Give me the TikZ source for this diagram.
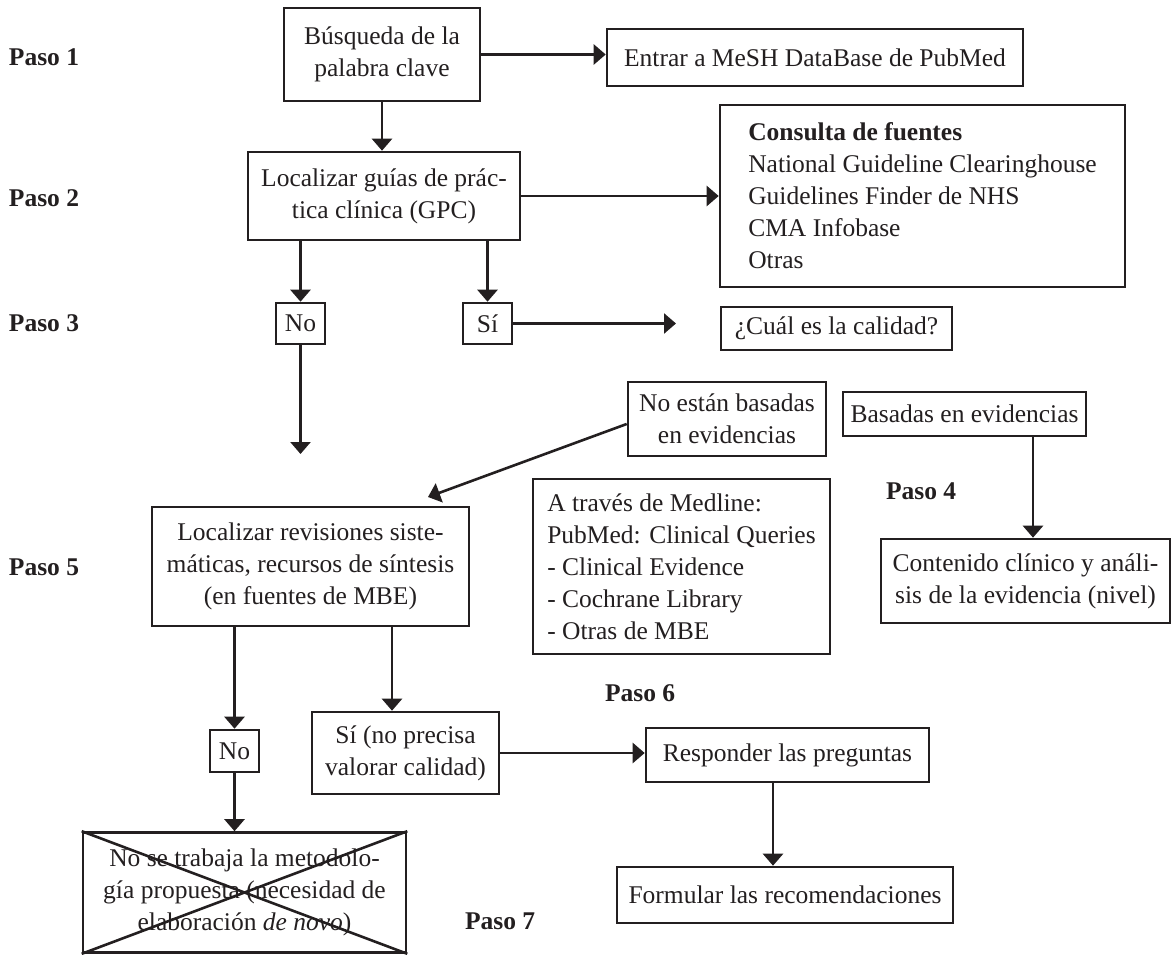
\documentclass[tikz,border=0pt]{standalone}
\usepackage{fontspec}
\setmainfont{Liberation Serif}
\usetikzlibrary{arrows.meta}
\definecolor{ink}{RGB}{35,31,32}
\begin{document}
\begin{tikzpicture}[x=1pt,y=-1pt,
  every node/.style={inner sep=0pt, outer sep=1.3pt, text=ink,
    font=\fontsize{25.5}{32}\selectfont},
  box/.style={draw=ink, line width=2.6pt, align=center},
  lbox/.style={draw=ink, line width=2.6pt, align=left},
  paso/.style={anchor=west, outer sep=0pt, font=\fontsize{25.5}{32}\selectfont\bfseries},
  conn/.style={draw=ink, line width=2.6pt, -{Triangle[width=20pt,length=12pt]}},
  strike/.style={draw=ink, line width=2.6pt}
]
\useasboundingbox (0,0) rectangle (1172,955);

% step labels
\node[paso] (p1) at (9,57)  {Paso 1};
\node[paso] (p2) at (9,198) {Paso 2};
\node[paso] (p3) at (9,323) {Paso 3};
\node[paso] (p4) at (886,491) {Paso 4};
\node[paso] (p5) at (9,567) {Paso 5};
\node[paso] (p6) at (605,693) {Paso 6};
\node[paso] (p7) at (465,921) {Paso 7};

% boxes
\node[box, minimum width=196pt, minimum height=93pt] (busq) at (382,54.5)
  {Búsqueda de la\\palabra clave};
\node[box, minimum width=416pt, minimum height=57pt] (mesh) at (815,57.5)
  {Entrar a MeSH DataBase de PubMed};
\node[box, minimum width=272pt, minimum height=88pt] (gpc) at (384,196)
  {Localizar guías de prác-\\tica clínica (GPC)};
\node[lbox, minimum width=405pt, minimum height=182pt] (fuentes) at (922.5,196)
  {\textbf{Consulta de fuentes}\\National Guideline Clearinghouse\\Guidelines Finder de NHS\\CMA Infobase\\Otras};
\node[box, minimum width=49pt, minimum height=41pt] (no1) at (300.5,323.5) {No};
\node[box, minimum width=49pt, minimum height=41pt] (si1) at (487.5,323.5) {Sí};
\node[box, minimum width=231pt, minimum height=43pt] (calidad) at (836.5,328.5)
  {¿Cuál es la calidad?};
\node[box, minimum width=198pt, minimum height=74pt] (noev) at (727,419)
  {No están basadas\\en evidencias};
\node[box, minimum width=243pt, minimum height=44pt] (siev) at (964.5,414)
  {Basadas en evidencias};
\node[lbox, minimum width=297pt, minimum height=175pt] (medline) at (681.5,566.5)
  {A través de Medline:\\PubMed: Clinical Queries\\- Clinical Evidence\\- Cochrane Library\\- Otras de MBE};
\node[box, minimum width=317pt, minimum height=119pt] (revis) at (310.5,566.5)
  {Localizar revisiones siste-\\máticas, recursos de síntesis\\(en fuentes de MBE)};
\node[box, minimum width=289pt, minimum height=84pt] (nivel) at (1025.5,581)
  {Contenido clínico y análi-\\sis de la evidencia (nivel)};
\node[box, minimum width=49pt, minimum height=42pt] (no2) at (234.5,751) {No};
\node[box, minimum width=187pt, minimum height=82pt] (si2) at (405.5,753)
  {Sí (no precisa\\valorar calidad)};
\node[box, minimum width=283pt, minimum height=54pt] (resp) at (787.5,755)
  {Responder las preguntas};
\node[box, minimum width=336pt, minimum height=56pt] (recom) at (785,895)
  {Formular las recomendaciones};
\node[box, minimum width=323pt, minimum height=120pt] (denovo) at (244.5,892.5)
  {No se trabaja la metodolo-\\gía propuesta (necesidad de\\elaboración \textit{de novo})};
\draw[strike] (denovo.north west) -- (denovo.south east)
              (denovo.north east) -- (denovo.south west);

% free arrow ends and offset attachment points
\coordinate (sitip) at (676,323.5);
\coordinate (notip) at (300.5,454);
\coordinate (revtip) at (428,497);
\coordinate (noevout) at ([yshift=-5pt]noev.west);
\coordinate (nivtop) at ([xshift=7.5pt]nivel.north);
\coordinate (si2top) at ([xshift=-13.5pt]si2.north);
\coordinate (respbot) at ([xshift=-14.5pt]resp.south);

% connectors
\draw[conn] (busq.east) -- (busq.east -| mesh.west);
\draw[conn] (busq.south) -- (busq.south |- gpc.north);
\draw[conn] (gpc.east) -- (fuentes.west);
\draw[conn] (no1.north |- gpc.south) -- (no1.north);
\draw[conn] (si1.north |- gpc.south) -- (si1.north);
\draw[conn] (si1.east) -- (sitip);
\draw[conn] (no1.south) -- (notip);
\draw[conn] (noevout) -- (revtip);
\draw[conn] (nivtop |- siev.south) -- (nivtop);
\draw[conn] (no2.north |- revis.south) -- (no2.north);
\draw[conn] (si2top |- revis.south) -- (si2top);
\draw[conn] (no2.south) -- (no2.south |- denovo.north);
\draw[conn] (si2.east) -- (si2.east -| resp.west);
\draw[conn] (respbot) -- (respbot |- recom.north);
\end{tikzpicture}
\end{document}
